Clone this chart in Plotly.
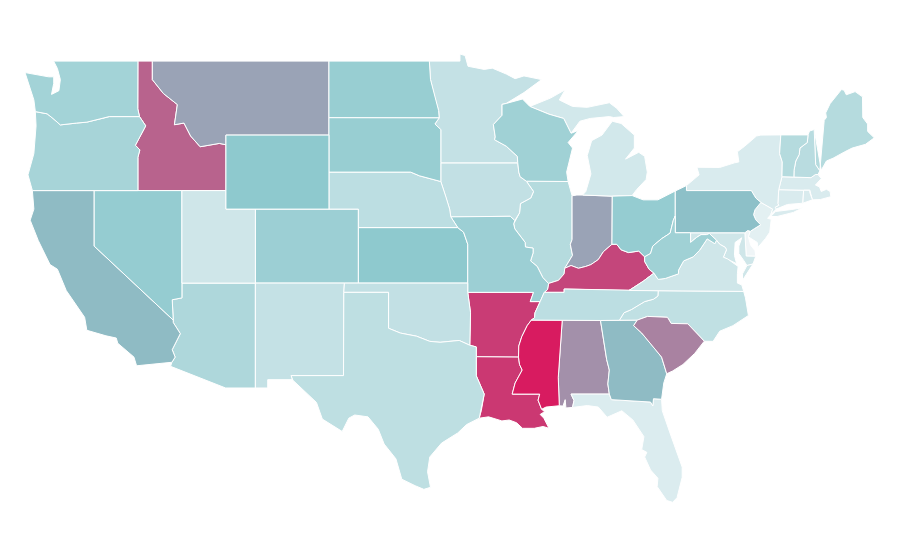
import plotly.graph_objects as go
from plotly.colors import sample_colorscale

states = ["AL","AZ","AR","CA","CO","CT","DE","FL","GA","ID","IL","IN","IA","KS","KY","LA","ME","MD","MA","MI","MN","MS","MO","MT","NE","NV","NH","NJ","NM","NY","NC","ND","OH","OK","OR","PA","RI","SC","SD","TN","TX","UT","VT","VA","WA","WV","WI","WY"]
values = [51,18,86,33,23,6,0,5.5,33,70,16,43,12.5,27,82,88,16,9,6,8,12,100,23,43,14,25,15,3.3,12,6,13,24,25,12.5,20,31,6,57,24,14,13.5,9,16,9,21,22,22,27]
colorscale = [[0,"#EFF5F7"],[0.28,"#8AC7CC"],[1,"#D81B60"]]

def r(seg):
    return seg[::-1]

# Shared state borders, hand-approximated in (longitude, latitude)
WI_MN = [(-92.01,46.71),(-92.29,46.66),(-92.29,46.07),(-92.88,45.57),(-92.75,44.9),(-92.8,44.75),(-92.0,44.4),(-91.25,43.85),(-91.22,43.5)]
IA_WI = [(-91.22,43.5),(-91.15,43.0),(-91.06,42.75),(-90.64,42.51)]
IA_IL = [(-90.64,42.51),(-90.15,41.95),(-90.34,41.6),(-91.04,41.3),(-91.1,40.8),(-91.42,40.38)]
MO_IL = [(-91.42,40.38),(-91.5,40.2),(-91.42,39.93),(-90.72,39.2),(-90.7,38.95),(-90.18,38.89),(-90.18,38.63),(-90.35,38.2),(-89.9,37.9),(-89.52,37.3),(-89.13,36.98)]
MO_KY = [(-89.13,36.98),(-89.2,36.65),(-89.42,36.5)]
MO_TN = [(-89.42,36.5),(-89.7,36.0)]
AR_TN = [(-89.7,36.0),(-90.05,35.4),(-90.08,35.13),(-90.3,35.0)]
AR_MS = [(-90.3,35.0),(-90.58,34.7),(-90.95,34.1),(-91.15,33.6),(-91.17,33.0)]
LA_MS = [(-91.17,33.0),(-91.1,32.6),(-90.92,32.3),(-91.4,31.6),(-91.6,31.0),(-89.73,31.0),(-89.84,30.67),(-89.6,30.18)]
IL_KY = [(-89.13,36.98),(-88.45,37.15),(-88.07,37.5),(-88.03,37.8)]
IL_IN = [(-88.03,37.8),(-87.5,38.5),(-87.65,39.1),(-87.53,39.35),(-87.53,41.72)]
IN_KY = [(-88.03,37.8),(-87.6,37.95),(-87.1,37.8),(-86.6,37.9),(-86.25,38.0),(-85.75,38.27),(-85.4,38.7),(-84.82,39.1)]
OH_KY = [(-84.82,39.1),(-84.5,39.1),(-84.2,38.8),(-83.7,38.65),(-83.0,38.73),(-82.6,38.42)]
OH_WV = [(-82.6,38.42),(-82.2,38.6),(-82.05,39.0),(-81.75,39.2),(-81.45,39.4),(-80.87,39.7),(-80.65,40.4),(-80.52,40.64)]
KY_WV = [(-82.6,38.42),(-82.6,38.17),(-82.3,37.75),(-81.97,37.54)]
KY_VA = [(-81.97,37.54),(-82.7,37.1),(-83.67,36.6)]
KY_TN = [(-83.67,36.6),(-88.07,36.68),(-88.07,36.5),(-89.42,36.5)]
TN_VA = [(-83.67,36.6),(-81.68,36.59)]
TN_NC = [(-81.68,36.59),(-81.7,36.3),(-82.0,36.13),(-82.6,36.0),(-83.1,35.77),(-83.5,35.57),(-84.0,35.4),(-84.32,34.99)]
VA_NC = [(-81.68,36.59),(-75.87,36.55)]
VA_WV = [(-81.97,37.54),(-81.68,37.2),(-81.2,37.25),(-80.3,37.5),(-80.3,37.7),(-79.95,38.2),(-79.3,38.42),(-78.87,38.77),(-78.35,39.39),(-77.83,39.13),(-77.72,39.32)]
MD_WV = [(-77.72,39.32),(-78.2,39.68),(-78.4,39.62),(-78.77,39.62),(-79.07,39.47),(-79.48,39.2),(-79.48,39.72)]
PA_WV = [(-79.48,39.72),(-80.52,39.72),(-80.52,40.64)]
PA_OH = [(-80.52,40.64),(-80.52,41.98)]
PA_NJ = [(-75.42,39.8),(-75.13,39.95),(-74.72,40.15),(-75.05,40.42),(-75.2,40.7),(-75.1,40.97),(-74.7,41.36)]
PA_NY = [(-74.7,41.36),(-75.05,41.6),(-75.35,42.0),(-79.76,42.0),(-79.76,42.27)]
NJ_NY = [(-74.7,41.36),(-73.9,41.0),(-74.03,40.7)]
NY_VT = [(-73.35,45.01),(-73.4,44.5),(-73.43,44.0),(-73.25,43.55),(-73.27,42.75)]
NY_MA = [(-73.27,42.75),(-73.49,42.05)]
NY_CT = [(-73.49,42.05),(-73.55,41.3),(-73.48,41.21),(-73.73,41.1),(-73.66,41.0)]
VT_NH = [(-71.5,45.01),(-71.55,44.6),(-72.05,44.3),(-72.1,43.95),(-72.33,43.6),(-72.45,43.1),(-72.46,42.73)]
NH_ME = [(-70.7,43.07),(-70.98,43.4),(-71.08,45.3)]
CT_MA = [(-73.49,42.05),(-71.8,42.02)]
CT_RI = [(-71.8,42.02),(-71.85,41.32)]
MA_RI = [(-71.8,42.02),(-71.38,42.02),(-71.38,41.9),(-71.2,41.5)]
MD_DE = [(-75.79,39.72),(-75.7,38.46),(-75.05,38.45)]
PA_DE = [(-75.79,39.72),(-75.6,39.84),(-75.42,39.8)]
DE_NJ = [(-75.42,39.8),(-75.55,39.5)]
POTOMAC = [(-76.25,37.9),(-76.95,38.3),(-77.25,38.4),(-77.04,38.8),(-77.12,38.93),(-77.5,39.1),(-77.72,39.32)]
NC_SC = [(-83.1,35.0),(-82.4,35.2),(-81.05,35.15),(-80.8,34.82),(-79.67,34.8),(-78.55,33.86)]
GA_SC = [(-83.1,35.0),(-83.35,34.7),(-82.8,34.3),(-81.95,33.5),(-81.45,33.0),(-81.1,32.1)]
GA_FL = [(-81.45,30.72),(-82.0,30.75),(-82.05,30.36),(-82.2,30.57),(-84.86,30.7)]
AL_GA = [(-85.0,31.0),(-85.1,31.55),(-85.0,32.3),(-85.18,32.87),(-85.6,34.98)]
AL_FL = [(-87.5,30.28),(-87.4,30.65),(-87.6,31.0),(-85.0,31.0)]
AL_MS = [(-88.2,35.0),(-88.47,31.9),(-88.4,30.37)]
AR_LA = [(-91.17,33.0),(-94.04,33.02)]
LA_TX = [(-94.04,33.02),(-94.04,31.99),(-93.5,31.0),(-93.7,30.1),(-93.84,29.7)]
AR_TX = [(-94.04,33.02),(-94.04,33.55),(-94.48,33.64)]
AR_OK = [(-94.48,33.64),(-94.43,35.4),(-94.62,36.5)]
AR_MO = [(-94.62,36.5),(-90.15,36.5),(-90.37,36.0),(-89.7,36.0)]
IA_MO = [(-91.42,40.38),(-91.73,40.61),(-95.77,40.58)]
IA_NE = [(-95.77,40.58),(-95.85,41.0),(-96.1,41.65),(-96.45,42.49)]
MN_IA = [(-91.22,43.5),(-96.45,43.5)]
IA_SD = [(-96.45,43.5),(-96.45,42.49)]
MN_SD = [(-96.45,43.5),(-96.45,45.3),(-96.85,45.6),(-96.56,45.93)]
MN_ND = [(-96.56,45.93),(-96.6,46.33),(-96.85,47.0),(-97.15,48.0),(-97.23,49.0)]
MO_NE = [(-95.77,40.58),(-95.3,40.0)]
MO_KS = [(-95.3,40.0),(-94.9,39.75),(-94.62,39.1),(-94.62,37.0)]
MO_OK = [(-94.62,37.0),(-94.62,36.5)]
RED_RIVER = [(-94.48,33.64),(-95.2,33.9),(-96.5,33.8),(-97.2,33.85),(-98.1,34.13),(-99.2,34.3),(-100.0,34.56),(-100.0,36.5),(-103.04,36.5)]
NE_SD = [(-104.05,43.0),(-98.5,43.0),(-97.9,42.8),(-96.45,42.49)]
ID_MT = [(-116.05,49.0),(-116.05,48.0),(-115.3,47.25),(-114.35,46.65),(-114.55,45.56),(-113.9,45.65),(-113.45,44.95),(-112.8,44.37),(-111.5,44.55),(-111.05,44.48)]
ID_OR = [(-116.92,46.0),(-116.5,45.5),(-117.2,44.45),(-116.9,44.2),(-117.03,43.8),(-117.03,42.0)]
ID_WA = [(-117.03,49.0),(-117.04,46.42),(-116.92,46.0)]
OR_WA = [(-116.92,46.0),(-118.98,46.0),(-119.3,45.93),(-120.5,45.7),(-121.2,45.65),(-122.3,45.55),(-122.8,45.9),(-123.2,46.15),(-124.0,46.27)]
AZ_CA = [(-114.63,35.0),(-114.63,34.87),(-114.15,34.27),(-114.7,33.4),(-114.5,33.0),(-114.72,32.72)]
AZ_NV = [(-114.04,36.2),(-114.7,36.1),(-114.63,35.0)]

outlines = {
 "WA": [[(-122.76,49.0)] + ID_WA + OR_WA + [(-124.1,46.9),(-124.7,48.38),(-123.1,48.15),(-122.75,48.15),(-122.75,47.8),(-122.9,47.2),(-122.4,47.4),(-122.3,48.0),(-122.5,48.6)]],
 "OR": [r(OR_WA) + ID_OR + [(-124.2,42.0),(-124.5,42.85),(-124.1,44.0),(-123.95,45.5)]],
 "CA": [[(-124.2,42.0),(-120.0,42.0),(-120.0,39.0)] + AZ_CA + [(-117.12,32.53),(-117.3,33.0),(-118.4,33.75),(-118.5,34.03),(-119.2,34.15),(-120.5,34.45),(-120.65,35.15),(-121.9,36.6),(-122.5,37.75),(-123.0,38.0),(-123.8,39.3),(-124.35,40.4),(-124.1,41.0)]],
 "NV": [[(-120.0,42.0),(-114.04,42.0)] + AZ_NV + [(-120.0,39.0)]],
 "ID": [[(-117.03,49.0)] + ID_MT + [(-111.05,42.0)] + r(ID_OR) + r(ID_WA)[:-1]],
 "MT": [ID_MT + [(-111.05,45.0),(-104.05,45.0),(-104.05,49.0)]],
 "WY": [[(-111.05,45.0),(-104.05,45.0),(-104.05,41.0),(-111.05,41.0)]],
 "UT": [[(-114.04,42.0),(-111.05,42.0),(-111.05,41.0),(-109.05,41.0),(-109.05,37.0),(-114.04,37.0)]],
 "CO": [[(-109.05,41.0),(-102.05,41.0),(-102.05,37.0),(-109.05,37.0)]],
 "AZ": [[(-114.04,37.0),(-109.05,37.0),(-109.05,31.33),(-111.07,31.33),(-114.81,32.5)] + r(AZ_CA) + r(AZ_NV)],
 "NM": [[(-109.05,37.0),(-103.0,37.0),(-103.04,36.5),(-103.06,32.0),(-106.62,32.0),(-106.53,31.78),(-108.21,31.78),(-108.21,31.33),(-109.05,31.33)]],
 "ND": [[(-104.05,49.0)] + r(MN_ND) + [(-104.05,45.94)]],
 "SD": [[(-104.05,45.94)] + r(MN_SD) + IA_SD + r(NE_SD)],
 "NE": [NE_SD + r(IA_NE) + MO_NE + [(-102.05,40.0),(-102.05,41.0),(-104.05,41.0)]],
 "KS": [[(-102.05,40.0)] + MO_KS + [(-102.05,37.0)]],
 "OK": [[(-103.0,37.0)] + MO_OK + r(AR_OK) + RED_RIVER],
 "TX": [[(-106.62,32.0),(-103.06,32.0)] + r(RED_RIVER) + r(AR_TX) + LA_TX + [(-94.7,29.35),(-95.3,28.9),(-96.4,28.35),(-97.2,27.6),(-97.35,26.8),(-97.15,25.96),(-97.6,25.85),(-98.2,26.05),(-99.1,26.4),(-99.5,27.5),(-100.3,28.3),(-100.7,29.1),(-101.4,29.77),(-102.3,29.87),(-102.7,29.7),(-103.15,28.98),(-104.5,29.65),(-104.9,30.55),(-106.5,31.75)]],
 "MN": [[(-97.23,49.0),(-95.15,49.0),(-95.15,49.38),(-94.8,49.3),(-94.6,48.72),(-93.5,48.55),(-92.95,48.62),(-92.0,48.3),(-91.4,48.05),(-90.8,48.2),(-89.6,48.0),(-90.8,47.3)] + WI_MN + MN_IA + MN_SD + MN_ND],
 "IA": [r(MN_IA) + IA_WI + IA_IL + IA_MO + IA_NE + r(IA_SD)],
 "MO": [IA_MO + MO_NE + MO_KS + MO_OK + AR_MO + r(MO_TN) + r(MO_KY) + r(MO_IL)],
 "AR": [AR_MO + AR_TN + AR_MS + AR_LA + AR_TX + AR_OK],
 "LA": [LA_MS + [(-89.4,30.05),(-89.7,29.9),(-89.45,29.7),(-89.1,29.15),(-89.5,29.25),(-90.1,29.15),(-90.9,29.15),(-91.3,29.45),(-91.8,29.6),(-92.3,29.55),(-93.2,29.77)] + r(LA_TX) + r(AR_LA)],
 "WI": [WI_MN + IA_WI + [(-87.8,42.49),(-87.9,43.0),(-87.5,44.3),(-87.8,44.6),(-87.1,45.25),(-87.6,45.1),(-88.1,45.9),(-89.1,46.13),(-90.4,46.55),(-90.9,46.95)]],
 "IL": [IA_IL + MO_IL + IL_KY + IL_IN + [(-87.8,42.49)]],
 "IN": [IL_IN + [(-87.2,41.76),(-86.82,41.76),(-84.8,41.7),(-84.82,39.1)] + r(IN_KY)],
 "MI": [[(-86.82,41.76),(-84.8,41.7),(-83.45,41.73),(-83.15,42.05),(-82.5,42.6),(-82.42,43.0),(-82.6,43.85),(-83.0,44.07),(-83.9,43.7),(-83.3,44.3),(-83.3,45.0),(-84.2,45.63),(-84.8,45.75),(-85.5,45.0),(-86.2,44.7),(-86.5,43.9),(-86.25,42.9),(-86.6,41.95)],
        [(-90.4,46.55),(-89.1,46.13),(-88.1,45.9),(-87.6,45.1),(-87.0,45.75),(-86.3,45.9),(-85.0,46.0),(-84.7,45.95),(-84.0,46.0),(-84.5,46.45),(-85.0,46.75),(-86.5,46.5),(-87.5,46.55),(-88.4,46.9),(-88.0,47.45),(-89.0,47.0)]],
 "OH": [[(-84.8,41.7),(-83.45,41.73),(-82.7,41.5),(-81.7,41.5),(-80.52,41.98)] + r(PA_OH) + r(OH_WV) + r(OH_KY)],
 "KY": [IL_KY + IN_KY + OH_KY + KY_WV + KY_VA + KY_TN + r(MO_KY)],
 "TN": [r(KY_TN) + TN_VA + TN_NC + [(-85.6,34.98),(-88.2,35.0),(-90.3,35.0)] + r(AR_TN) + r(MO_TN)],
 "MS": [[(-88.2,35.0)] + AR_MS + LA_MS + [(-89.3,30.3)] + r(AL_MS)],
 "AL": [AL_MS + [(-88.15,30.35),(-88.0,30.7),(-87.95,30.25)] + AL_FL + AL_GA],
 "GA": [[(-85.6,34.98),(-84.32,34.99)] + GA_SC + [(-81.3,31.6)] + GA_FL + AL_GA],
 "FL": [AL_FL + r(GA_FL) + [(-81.4,30.1),(-80.88,28.9),(-80.5,28.0),(-80.05,27.05),(-80.05,26.5),(-80.4,25.4),(-80.7,25.15),(-81.1,25.25),(-81.75,26.0),(-81.7,26.45),(-82.2,26.9),(-82.6,27.6),(-82.45,27.85),(-82.8,28.0),(-82.65,28.7),(-83.4,29.6),(-84.15,30.1),(-85.15,29.75),(-85.75,30.3),(-86.5,30.38)]],
 "SC": [NC_SC + [(-79.2,33.2),(-80.0,32.6),(-80.7,32.25)] + r(GA_SC)],
 "NC": [TN_NC + NC_SC + [(-77.95,33.85),(-77.5,34.4),(-76.6,34.7),(-75.55,35.25),(-75.75,36.2)] + r(VA_NC)],
 "VA": [VA_WV + r(POTOMAC) + [(-76.3,37.5),(-76.3,37.0),(-76.0,36.9)] + r(VA_NC) + r(TN_VA) + r(KY_VA),
        [(-75.65,37.95),(-75.24,38.03),(-75.95,37.15),(-75.95,37.5)]],
 "WV": [r(KY_WV) + OH_WV + r(PA_WV) + r(MD_WV) + r(VA_WV)],
 "PA": [[(-79.76,42.27),(-80.52,41.98)] + r(PA_OH) + r(PA_WV) + PA_DE + PA_NJ + PA_NY[1:]],
 "MD": [[(-79.48,39.72)] + MD_DE + [(-75.24,38.03),(-75.65,37.95),(-75.85,38.2),(-76.2,38.6),(-76.2,39.0),(-76.0,39.45),(-76.45,39.2),(-76.5,38.5),(-76.35,38.05)] + POTOMAC[1:] + MD_WV],
 "DE": [MD_DE + [(-75.1,38.75),(-75.4,39.05)] + r(DE_NJ) + r(PA_DE)],
 "NJ": [PA_NJ + NJ_NY + [(-74.25,40.5),(-74.0,40.45),(-74.1,39.75),(-74.4,39.4),(-74.9,38.93),(-74.95,39.2),(-75.55,39.5)]],
 "NY": [PA_NY + [(-78.9,42.85),(-79.05,43.26),(-77.5,43.25),(-76.5,43.5),(-76.2,43.55),(-76.3,44.1),(-75.8,44.4),(-75.0,44.95),(-74.7,45.0)] + NY_VT + NY_MA + NY_CT + r(NJ_NY),
        [(-74.03,40.6),(-73.6,40.6),(-72.5,40.82),(-71.87,41.07),(-72.6,40.98),(-73.7,40.87)]],
 "CT": [r(NY_CT) + CT_MA + CT_RI + [(-72.9,41.25)]],
 "RI": [MA_RI + [(-71.85,41.32)]],
 "MA": [r(NY_MA) + [(-72.46,42.73),(-71.3,42.7),(-71.0,42.87),(-70.82,42.87),(-70.6,42.65),(-71.0,42.3),(-70.72,42.2),(-70.6,41.95),(-70.25,42.07),(-70.0,41.95),(-69.95,41.67),(-70.65,41.52),(-71.2,41.5),(-71.38,41.9),(-71.38,42.02),(-71.8,42.02)]],
 "VT": [[(-73.35,45.01)] + VT_NH + r(NY_VT)],
 "NH": [VT_NH + [(-71.3,42.7),(-71.0,42.87),(-70.82,42.87)] + NH_ME + [(-71.4,45.22)]],
 "ME": [r(NH_ME) + [(-70.4,45.8),(-70.25,45.95),(-70.3,46.2),(-70.0,46.7),(-69.23,47.46),(-69.05,47.43),(-68.9,47.18),(-68.3,47.35),(-67.8,47.07),(-67.78,45.95),(-67.45,45.6),(-67.45,45.2),(-67.0,44.85),(-67.6,44.5),(-68.5,44.3),(-69.0,44.1),(-69.8,43.75),(-70.25,43.6),(-70.6,43.1)]],
}

lon_range = [-125.857, -64.707]
lat_range = [21.6, 51.87]

fig = go.Figure()
for state, value in zip(states, values):
    xs, ys = [], []
    for ring in outlines[state]:
        xs += [p[0] for p in ring] + [ring[0][0], None]
        ys += [p[1] for p in ring] + [ring[0][1], None]
    color = sample_colorscale(colorscale, [value / 100])[0]
    fig.add_trace(go.Scatter(x=xs, y=ys, mode="lines", fill="toself", fillcolor=color,
                             line=dict(color="white", width=1), name=state, showlegend=False,
                             hoverinfo="text", text=f"{state}: {value}"))

fig.update_xaxes(range=lon_range, visible=False, fixedrange=True)
fig.update_yaxes(range=lat_range, visible=False, fixedrange=True)
fig.update_layout(width=900, height=560, margin=dict(l=0, r=0, t=0, b=0),
                  paper_bgcolor="white", plot_bgcolor="white", showlegend=False)
fig.write_html("out.html")
